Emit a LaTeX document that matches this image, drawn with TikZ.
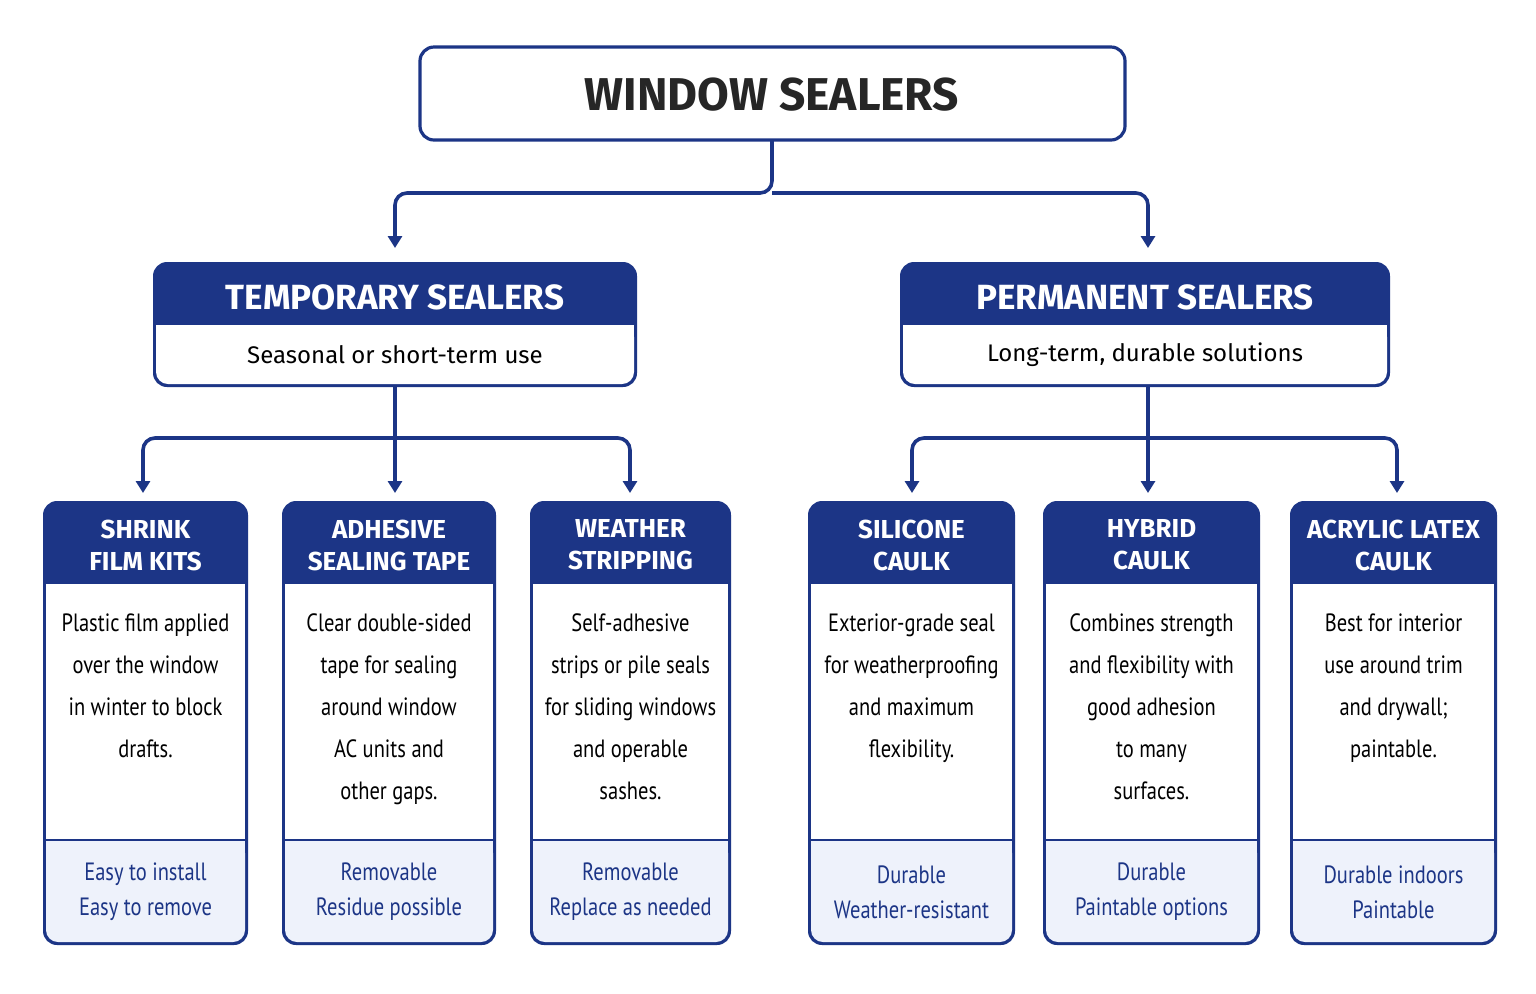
\documentclass[tikz,border=0pt]{standalone}
\usepackage{fontspec}
\setmainfont{Fira Sans}
\newfontfamily\narrow[FakeStretch=0.82]{PT Sans}
\newfontfamily\headf{Fira Sans}
\usetikzlibrary{arrows.meta}
\definecolor{navy}{HTML}{1C3586}
\definecolor{foot}{HTML}{EEF2FB}
\begin{document}
\begin{tikzpicture}[x=0.5pt,y=-0.5pt,
 conn/.style={navy,line width=1.8pt,rounded corners=6pt},
 arr/.style={conn,-{Triangle[length=6pt,width=7pt]}},
 hdr/.style={text=white,font=\headf\bfseries\fontsize{13}{16}\selectfont,align=center},
 body/.style={text=black,font=\narrow\fontsize{12.5}{21}\selectfont,align=center},
 ftr/.style={text=navy,font=\narrow\fontsize{12.5}{17.5}\selectfont,align=center}]
\useasboundingbox (0,0) rectangle (1536,993);
\fill[white] (0,0) rectangle (1536,993);
% title
\draw[navy,line width=1.6pt,rounded corners=7pt,fill=white] (420,47) rectangle (1125,140);
\node[font=\headf\bfseries\fontsize{23}{28}\selectfont,text=black!85] (title) at (772,95) {WINDOW SEALERS};
% category boxes
\newcommand{\catbox}[5]{%
 \fill[navy,rounded corners=7pt] (#1,262) rectangle (#2,387);
 \fill[white,rounded corners=6pt] (#1+3,325) rectangle (#2-3,384);
 \fill[white] (#1+3,325) rectangle (#2-3,345);
 \node[hdr,font=\headf\bfseries\fontsize{17.5}{20}\selectfont] (#3) at ({(#1+#2)/2},297) {#4};
 \node[font=\fontsize{12}{14}\selectfont] (#3s) at ({(#1+#2)/2},355) {#5};}
\catbox{153}{637}{temp}{TEMPORARY SEALERS}{Seasonal or short-term use}
\catbox{900}{1390}{perm}{PERMANENT SEALERS}{Long-term, durable solutions}
\coordinate (t1) at (772,140);
\coordinate (ta) at (395,248);
\coordinate (pa) at (1148,248);
\draw[arr] (t1) -- (772,193) -- (395,193) -- (ta);
\draw[arr] (772,193) -- (1148,193) -- (pa);
% cards
\newcommand{\card}[7]{%
 \fill[navy,rounded corners=7pt] (#1,501) rectangle (#2,945);
 \fill[foot,rounded corners=6pt] (#1+3,841) rectangle (#2-3,942);
 \fill[foot] (#1+3,841) rectangle (#2-3,870);
 \fill[white] (#1+3,584) rectangle (#2-3,839);
 \node[hdr] (#3) at ({(#1+#2)/2},545) {#4};
 \node[body,anchor=north] (#3b) at ({(#1+#2)/2},607) {#5};
 \node[ftr] (#3f) at ({(#1+#2)/2},892) {#6\\#7};}
\card{43}{248}{c1}{SHRINK\\FILM KITS}{Plastic film applied\\over the window\\in winter to block\\drafts.}{Easy to install}{Easy to remove}
\card{282}{496}{c2}{ADHESIVE\\SEALING TAPE}{Clear double-sided\\tape for sealing\\around window\\AC units and\\other gaps.}{Removable}{Residue possible}
\card{530}{731}{c3}{WEATHER\\STRIPPING}{Self-adhesive\\strips or pile seals\\for sliding windows\\and operable\\sashes.}{Removable}{Replace as needed}
\card{808}{1015}{c4}{SILICONE\\CAULK}{Exterior-grade seal\\for weatherproofing\\and maximum\\flexibility.}{Durable}{Weather-resistant}
\card{1043}{1260}{c5}{HYBRID\\CAULK}{Combines strength\\and flexibility with\\good adhesion\\to many\\surfaces.}{Durable}{Paintable options}
\card{1290}{1497}{c6}{ACRYLIC LATEX\\CAULK}{Best for interior\\use around trim\\and drywall;\\paintable.}{Durable indoors}{Paintable}
% branches
\coordinate (tb) at (395,387);
\coordinate (pb) at (1148,387);
\draw[arr] (tb) -- (395,493);
\draw[arr] (395,438) -- (143,438) -- (143,493);
\draw[arr] (395,438) -- (630,438) -- (630,493);
\draw[arr] (pb) -- (1148,493);
\draw[arr] (1148,438) -- (912,438) -- (912,493);
\draw[arr] (1148,438) -- (1397,438) -- (1397,493);
\end{tikzpicture}
\end{document}
